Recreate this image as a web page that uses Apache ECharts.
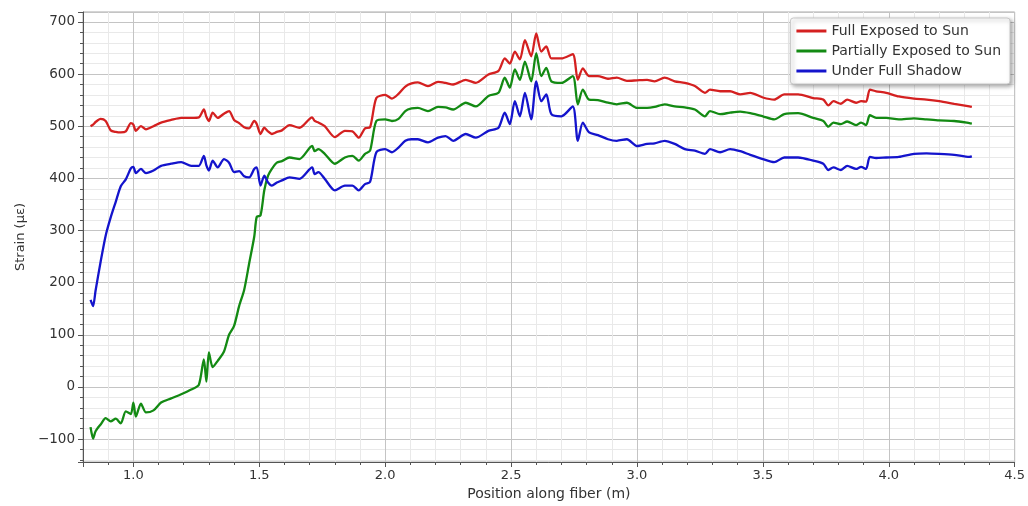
<!DOCTYPE html>
<html><head><meta charset="utf-8">
<script src="https://cdn.jsdelivr.net/npm/echarts@6/dist/echarts.min.js"></script>
<style>html,body{margin:0;padding:0;background:#fff}#c{width:1028px;height:506px}</style>
</head><body><div id="c"></div>
<script>
// Position along fiber (m)
const positions = [
  0.83,0.84,0.85,0.87,0.89,0.91,0.93,0.95,0.97,0.99,
  1.00,1.01,1.03,1.05,1.08,1.11,1.15,1.19,1.23,1.26,
  1.28,1.29,1.30,1.315,1.335,1.36,1.38,1.40,1.42,1.44,
  1.46,1.48,1.49,1.505,1.52,1.535,1.55,1.57,1.59,1.62,
  1.66,1.71,1.72,1.735,1.76,1.80,1.84,1.87,1.895,1.92,
  1.94,1.965,2.00,2.027,2.053,2.08,2.105,2.13,2.17,2.21,
  2.24,2.27,2.32,2.36,2.41,2.45,2.475,2.495,2.515,2.535,
  2.555,2.58,2.60,2.62,2.64,2.66,2.70,2.745,2.765,2.785,
  2.81,2.845,2.885,2.92,2.96,3.00,3.04,3.07,3.11,3.15,
  3.19,3.23,3.27,3.29,3.33,3.37,3.41,3.45,3.50,3.545,
  3.585,3.64,3.70,3.74,3.76,3.78,3.81,3.835,3.87,3.89,
  3.91,3.925,3.95,3.99,4.04,4.10,4.15,4.20,4.26,4.32,
  4.33
];
// Strain (µε)
const fullSun = [
  500,503,508,514,510,492,489,488,490,506,
  503,491,500,494,500,507,512,516,516,517,
  532,518,510,526,516,524,529,512,506,498,
  496,510,504,485,497,490,485,489,492,502,
  497,517,510,507,500,479,491,490,478,496,
  498,554,560,553,562,576,582,584,577,585,
  583,580,589,583,599,606,630,620,643,628,
  665,634,678,643,653,630,630,638,589,611,
  596,596,591,593,587,588,589,586,593,586,
  583,577,564,570,567,567,561,564,555,551,
  561,561,554,551,540,548,543,551,545,548,
  547,570,567,564,557,553,551,548,543,538,
  537
];
const partialSun = [
  -77,-99,-85,-72,-60,-66,-61,-70,-47,-52,
  -30,-57,-32,-49,-45,-30,-22,-14,-5,4,
  53,10,66,38,50,68,100,117,155,186,
  237,288,326,329,377,405,418,430,433,440,
  437,462,452,456,447,428,440,443,434,447,
  453,510,513,510,514,529,534,535,529,537,
  536,532,545,538,558,564,593,574,609,589,
  624,586,640,596,612,586,583,596,542,570,
  551,550,545,542,545,535,535,537,542,538,
  536,532,519,529,523,526,528,525,519,513,
  523,525,516,510,499,507,504,509,502,507,
  502,521,516,516,513,515,513,511,510,506,
  505
];
const fullShadow = [
  167,155,185,240,290,325,355,385,398,419,
  422,410,418,410,415,424,428,431,424,424,
  443,425,415,434,421,437,430,412,414,404,
  402,418,421,386,405,392,386,392,396,402,
  399,421,408,412,399,377,386,386,377,389,
  393,450,456,450,459,472,475,475,469,478,
  481,472,485,478,491,497,526,504,548,519,
  564,513,586,548,561,523,519,538,472,507,
  488,483,475,472,475,462,466,467,472,466,
  456,453,447,456,450,456,452,445,437,431,
  440,440,434,428,416,421,416,424,418,422,
  418,441,439,440,441,447,448,447,445,441,
  442
];
const seriesNames = ['Full Exposed to Sun', 'Partially Exposed to Sun', 'Under Full Shadow'];
const seriesValues = [fullSun, partialSun, fullShadow];
const seriesColors = ['#d42020', '#138a13', '#1414cc'];

const font = 'DejaVu Sans';
const chart = echarts.init(document.getElementById('c'), null, {renderer: 'canvas'});
const fmtMinus = v => String(v).replace('-', '\u2212');

chart.setOption({
  animation: false,
  backgroundColor: '#fff',
  grid: {left: 83, right: 12, top: 12, bottom: 43, show: true, borderColor: '#aaa', borderWidth: 1, backgroundColor: '#fff'},
  legend: {
    orient: 'vertical', right: 18, top: 18,
    backgroundColor: '#fff', borderColor: '#c8c8c8', borderWidth: 1, borderRadius: 3,
    padding: [6, 9, 6, 6], itemGap: 6, itemWidth: 30, itemHeight: 3, icon: 'rect',
    shadowBlur: 4, shadowColor: 'rgba(0,0,0,0.35)', shadowOffsetX: 2, shadowOffsetY: 2,
    textStyle: {fontSize: 14, color: '#333', fontFamily: font},
    data: seriesNames
  },
  xAxis: {
    type: 'value', min: 0.8, max: 4.5, splitNumber: 8,
    name: 'Position along fiber (m)', nameLocation: 'middle', nameGap: 25,
    nameTextStyle: {fontSize: 14, color: '#333', fontFamily: font},
    axisLine: {show: true, onZero: false, lineStyle: {color: '#555'}},
    axisTick: {show: true, length: 5, lineStyle: {color: '#555'}},
    minorTick: {show: true, splitNumber: 5, length: 3, lineStyle: {color: '#555'}},
    splitLine: {show: true, lineStyle: {color: '#c4c4c4', width: 1}},
    minorSplitLine: {show: true, lineStyle: {color: '#e9e9e9', width: 1}},
    axisLabel: {showMinLabel: false, color: '#333', fontSize: 13, fontFamily: font, margin: 7,
      formatter: v => v.toFixed(1)}
  },
  yAxis: {
    type: 'value', min: -144, max: 719, splitNumber: 8,
    name: 'Strain (\u03bc\u03b5)', nameLocation: 'middle', nameGap: 55,
    nameTextStyle: {fontSize: 13, color: '#333', fontFamily: font},
    axisLine: {show: true, onZero: false, lineStyle: {color: '#555'}},
    axisTick: {show: true, length: 5, lineStyle: {color: '#555'}},
    minorTick: {show: true, splitNumber: 5, length: 3, lineStyle: {color: '#555'}},
    splitLine: {show: true, lineStyle: {color: '#c4c4c4', width: 1}},
    minorSplitLine: {show: true, lineStyle: {color: '#e9e9e9', width: 1}},
    axisLabel: {showMinLabel: false, showMaxLabel: false, color: '#333', fontSize: 13.5, fontFamily: font, margin: 8,
      formatter: v => fmtMinus(v)}
  },
  series: seriesNames.map((name, i) => ({
    name, type: 'line', symbol: 'none', showSymbol: false, smooth: 0.25,
    data: positions.map((x, j) => [x, seriesValues[i][j]]),
    lineStyle: {color: seriesColors[i], width: 2.3},
    itemStyle: {color: seriesColors[i]},
    z: 3 + i
  }))
});
</script></body></html>
